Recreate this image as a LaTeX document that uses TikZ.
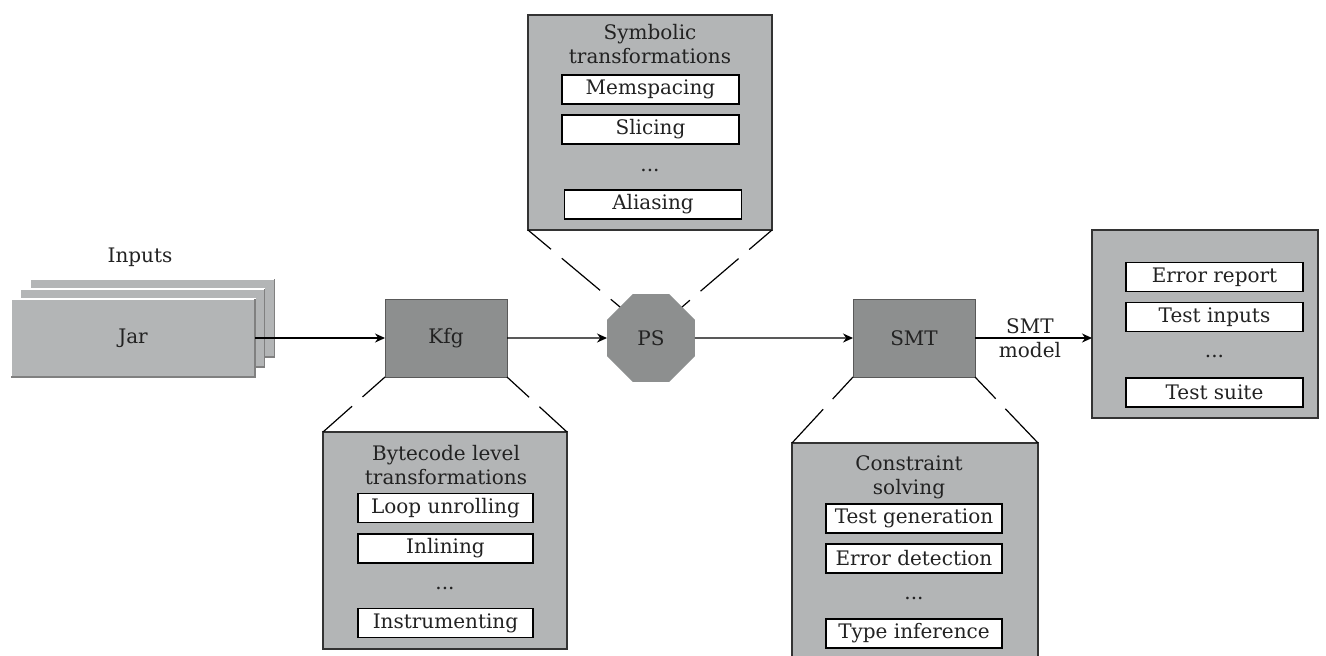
\documentclass[tikz,border=0pt]{standalone}
\usepackage{fontspec}
\setmainfont{DejaVu Serif}
\usetikzlibrary{shapes.geometric,arrows.meta}

\definecolor{lightg}{HTML}{B3B5B6}
\definecolor{darkg}{HTML}{8D8F8F}
\definecolor{inkc}{HTML}{222222}

\tikzset{
  cont/.style={draw=black!80, fill=lightg, line width=0.6pt, inner sep=0pt, outer sep=0pt},
  item/.style={draw=black, fill=white, line width=0.6pt, inner sep=0pt, outer sep=0pt,
               minimum width=88.5pt, minimum height=14.5pt, text=inkc},
  stage/.style={fill=darkg, draw=gray!70!black, line width=0.5pt, inner sep=0pt, outer sep=0pt,
                minimum width=61pt, minimum height=39pt, text=inkc},
  jarbox/.style={fill=lightg, draw=white, line width=0.8pt, inner sep=0pt, outer sep=0pt,
                 minimum width=122pt, minimum height=39pt, text=inkc},
  label/.style={text=inkc, align=center, inner sep=0pt},
  flow/.style={-{Stealth[length=5pt,width=4.5pt]}, line width=0.6pt},
  zoomline/.style={line width=0.6pt, dash pattern=on 25pt off 7pt, dash phase=10pt},
}

\begin{document}
\begin{tikzpicture}[x=0.5pt,y=-0.5pt]
\useasboundingbox (0,0) rectangle (1326,655);
\clip (0,0) rectangle (1326,655);

% stacked input jars
\node[jarbox] (jarback) at (152.5,318) {};
\draw[gray, line width=0.8pt] (jarback.north east) -- (jarback.south east) -- (jarback.south west);
\node[jarbox] (jarmid) at (142.5,328) {};
\draw[gray, line width=0.8pt] (jarmid.north east) -- (jarmid.south east) -- (jarmid.south west);
\node[jarbox] (jar) at (133,338) {Jar};
\draw[gray, line width=0.8pt] (jar.north east) -- (jar.south east) -- (jar.south west);
\node[label] (inputs) at (140,257) {Inputs};

% main pipeline stages
\node[stage] (kfg) at (446,338) {Kfg};
\node[regular polygon, regular polygon sides=8, minimum size=47.6pt, fill=darkg,
      inner sep=0pt, outer sep=0pt, text=inkc] (ps) at (651,338) {PS};
\node[stage] (smt) at (914,338) {SMT};

% output box
\node[cont, minimum width=113pt, minimum height=94pt] (out) at (1205,324) {};
\node[item] (err) at (1214.5,277) {Error report};
\node[item] (tin) at (1214.5,317) {Test inputs};
\node[label] (outdots) at (1214.5,356) {...};
\node[item] (tsuite) at (1214.5,392.5) {Test suite};

% symbolic transformations
\node[cont, minimum width=122pt, minimum height=107.5pt] (sym) at (650,122.5) {};
\node[label] (symtitle) at (650,44) {Symbolic\\transformations};
\node[item] (mem) at (650.5,89.5) {Memspacing};
\node[item] (sli) at (650.5,129.5) {Slicing};
\node[label] (symdots) at (650,170) {...};
\node[item] (ali) at (653,204.5) {Aliasing};

% bytecode level transformations
\node[cont, minimum width=122pt, minimum height=108.5pt] (byte) at (445,540.5) {};
\node[label] (bytetitle) at (446,465) {Bytecode level\\transformations};
\node[item, minimum width=87.5pt] (loop) at (445.5,508) {Loop unrolling};
\node[item, minimum width=87.5pt] (inl) at (445.5,548.5) {Inlining};
\node[label] (bytedots) at (445,588) {...};
\node[item, minimum width=87.5pt] (instr) at (445.5,623) {Instrumenting};

% constraint solving
\node[cont, minimum width=123pt, minimum height=118.5pt] (cons) at (915,561.5) {};
\node[label] (constitle) at (909,477) {Constraint\\solving};
\node[item, minimum width=88pt] (tgen) at (914,518.5) {Test generation};
\node[item, minimum width=88pt] (edet) at (914,558.5) {Error detection};
\node[label] (consdots) at (914,598) {...};
\node[item, minimum width=88pt] (tinf) at (914,633.5) {Type inference};

% data flow
\draw[flow] (jar.east) -- (kfg.west);
\draw[flow] (kfg.east) -- (ps.west);
\draw[flow] (ps.east) -- (smt.west);
\draw[flow] (smt.east) -- node[label, pos=0.47] {SMT\\model} (smt.east -| out.west);

% zoom-in connectors
\draw[zoomline] (sym.south west) -- (ps.135);
\draw[zoomline] (sym.south east) -- (ps.45);
\draw[zoomline] (kfg.south west) -- (byte.north west);
\draw[zoomline] (kfg.south east) -- (byte.north east);
\draw[zoomline] (smt.south west) -- (cons.north west);
\draw[zoomline] (smt.south east) -- (cons.north east);
\end{tikzpicture}
\end{document}
